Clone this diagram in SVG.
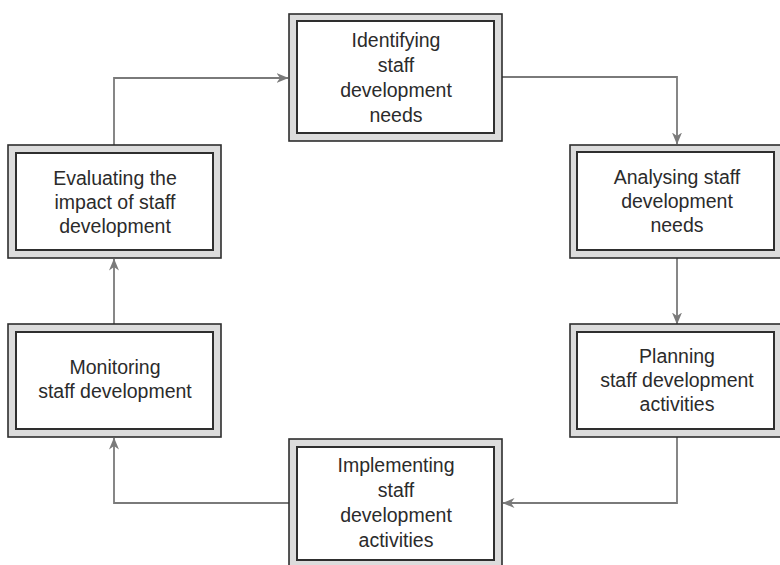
<svg xmlns="http://www.w3.org/2000/svg" width="780" height="565" viewBox="0 0 780 565">
<defs>
<style>
.outer{fill:#dcdcdc;stroke:#2e2e2e;stroke-width:1.6}
.inner{fill:#ffffff;stroke:#2e2e2e;stroke-width:2}
.lbl{font-family:"Liberation Sans",Arial,sans-serif;font-size:19.5px;fill:#2b2b2b;text-anchor:middle}
.conn{fill:none;stroke:#7a7a7a;stroke-width:1.8}
</style>
<marker id="arr" viewBox="0 0 12 10" refX="11.5" refY="5" markerWidth="12" markerHeight="10" markerUnits="userSpaceOnUse" orient="auto">
<path d="M0,0 L12,5 L0,10 L3.5,5 Z" fill="#7a7a7a"/>
</marker>
</defs>
<rect width="780" height="565" fill="#ffffff"/>
<g id="connectors">
<path class="conn" d="M502,77 H677 V144" marker-end="url(#arr)"/>
<path class="conn" d="M677,258 V324" marker-end="url(#arr)"/>
<path class="conn" d="M677,437 V503 H503" marker-end="url(#arr)"/>
<path class="conn" d="M289,503 H114 V438" marker-end="url(#arr)"/>
<path class="conn" d="M114,324 V259" marker-end="url(#arr)"/>
<path class="conn" d="M114,145 V78 H288" marker-end="url(#arr)"/>
</g>
<g id="identifying">
<rect class="outer" x="289" y="14" width="213" height="127"/>
<rect class="inner" x="297" y="21" width="197" height="112"/>
<text class="lbl" x="396" y="47">Identifying</text>
<text class="lbl" x="396" y="72">staff</text>
<text class="lbl" x="396" y="97">development</text>
<text class="lbl" x="396" y="122">needs</text>
</g>
<g id="analysing">
<rect class="outer" x="570" y="145" width="213" height="113"/>
<rect class="inner" x="577" y="152" width="197" height="98"/>
<text class="lbl" x="677" y="184">Analysing staff</text>
<text class="lbl" x="677" y="208">development</text>
<text class="lbl" x="677" y="232">needs</text>
</g>
<g id="planning">
<rect class="outer" x="570" y="324" width="213" height="113"/>
<rect class="inner" x="577" y="332" width="197" height="97"/>
<text class="lbl" x="677" y="363">Planning</text>
<text class="lbl" x="677" y="387">staff development</text>
<text class="lbl" x="677" y="411">activities</text>
</g>
<g id="implementing">
<rect class="outer" x="289" y="439" width="213" height="130"/>
<rect class="inner" x="297" y="447" width="197" height="113"/>
<text class="lbl" x="396" y="472">Implementing</text>
<text class="lbl" x="396" y="497">staff</text>
<text class="lbl" x="396" y="522">development</text>
<text class="lbl" x="396" y="547">activities</text>
</g>
<g id="monitoring">
<rect class="outer" x="8" y="324" width="213" height="113"/>
<rect class="inner" x="16" y="332" width="197" height="97"/>
<text class="lbl" x="115" y="374">Monitoring</text>
<text class="lbl" x="115" y="398">staff development</text>
</g>
<g id="evaluating">
<rect class="outer" x="8" y="145" width="213" height="113"/>
<rect class="inner" x="16" y="153" width="197" height="97"/>
<text class="lbl" x="115" y="185">Evaluating the</text>
<text class="lbl" x="115" y="209">impact of staff</text>
<text class="lbl" x="115" y="233">development</text>
</g>
</svg>
